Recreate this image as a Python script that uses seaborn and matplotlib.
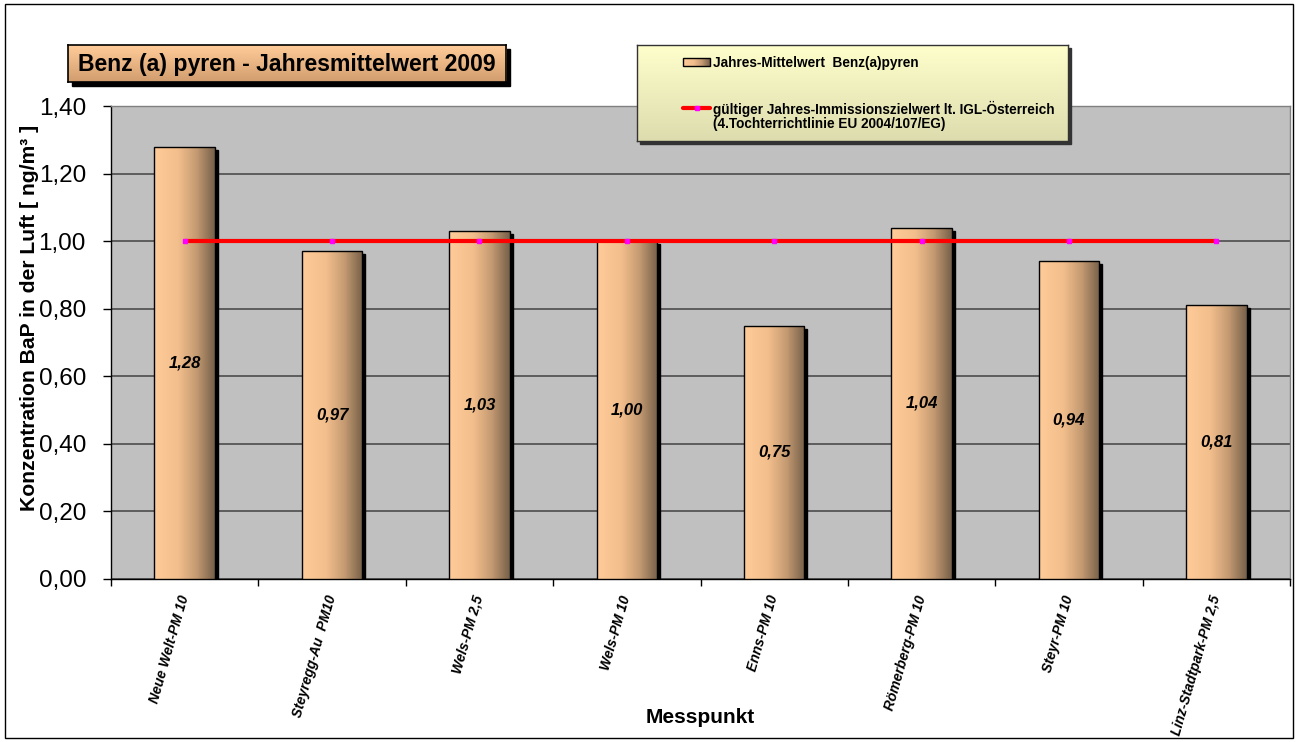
import numpy as np
import matplotlib
matplotlib.use('Agg')
import matplotlib.pyplot as plt
import matplotlib.transforms as mtransforms
from matplotlib.patches import Rectangle
from matplotlib.colors import LinearSegmentedColormap
from matplotlib.ticker import FuncFormatter
import seaborn as sns

# chart data
stations = ['Neue Welt-PM 10', 'Steyregg-Au  PM10', 'Wels-PM 2,5', 'Wels-PM 10',
            'Enns-PM 10', 'Römerberg-PM 10', 'Steyr-PM 10', 'Linz-Stadtpark-PM 2,5']
bap_values = [1.28, 0.97, 1.03, 1.00, 0.75, 1.04, 0.94, 0.81]
target_value = 1.0
y_ticks = [0.0, 0.2, 0.4, 0.6, 0.8, 1.0, 1.2, 1.4]

title = 'Benz (a) pyren - Jahresmittelwert 2009'
legend_bar = 'Jahres-Mittelwert  Benz(a)pyren'
legend_line = 'gültiger Jahres-Immissionszielwert lt. IGL-Österreich\n(4.Tochterrichtlinie EU 2004/107/EG)'

sns.set_theme(style='white')
plt.rcParams['font.family'] = ['Liberation Sans', 'DejaVu Sans']
plt.rcParams.update({'text.color': 'black', 'axes.labelcolor': 'black',
                     'xtick.color': 'black', 'ytick.color': 'black'})

W, H = 1299, 742
fig = plt.figure(figsize=(W / 100, H / 100), dpi=100)


def fig_rect(x0, y0, x1, y1):
    # pixel box (top-left origin) -> figure fraction
    return [x0 / W, 1 - y1 / H, (x1 - x0) / W, (y1 - y0) / H]


bar_cmap = LinearSegmentedColormap.from_list(
    'bar', [(0, '#FFCC99'), (0.4, '#F2BE8C'), (0.7, '#C49A72'), (1, '#76604A')])
title_cmap = LinearSegmentedColormap.from_list('title', ['#D29D6E', '#FFCC99'])
legend_cmap = LinearSegmentedColormap.from_list('legend', ['#DCDCAE', '#FFFFCC'])
hgrad = np.linspace(0, 1, 256).reshape(1, -1)
vgrad = np.linspace(0, 1, 256).reshape(-1, 1)

ax = fig.add_axes(fig_rect(111, 106, 1290, 579))
ax.set_facecolor('#C0C0C0')
ax.set_zorder(0)

sns.barplot(x=stations, y=bap_values, color='#E8B485', width=0.41,
            saturation=1, ax=ax)

shadow_tr = ax.transData + mtransforms.ScaledTranslation(3 / 100, -3 / 100, fig.dpi_scale_trans)
for p in ax.patches:
    x0, w, h = p.get_x(), p.get_width(), p.get_height()
    ax.add_patch(Rectangle((x0, 0), w, h, color='black', transform=shadow_tr, zorder=2.5))
    img = ax.imshow(hgrad, extent=[x0, x0 + w, 0, h], aspect='auto', cmap=bar_cmap,
                    interpolation='bilinear', zorder=3.1)
    img.set_clip_path(p)
    p.set_facecolor('none')
    p.set_edgecolor('black')
    p.set_linewidth(1)
    p.set_zorder(3.2)

# target value line
ax.plot(range(len(stations)), [target_value] * len(stations), color='red', lw=3,
        marker='s', ms=3.5, mfc='magenta', mec='magenta', zorder=4)

for i, v in enumerate(bap_values):
    ax.text(i, v / 2, f'{v:.2f}'.replace('.', ','), ha='center', va='center',
            fontsize=12, fontweight='bold', style='italic', zorder=5)

ax.set_xlim(-0.5, len(stations) - 0.5)
ax.set_ylim(0, 1.4)
ax.set_yticks(y_ticks)
ax.yaxis.set_major_formatter(FuncFormatter(lambda v, _: f'{v:.2f}'.replace('.', ',')))
ax.yaxis.grid(True, color='#555555', lw=1.3)
ax.set_axisbelow(True)
ax.tick_params(axis='y', left=True, length=6, width=1, labelsize=17.5, pad=12)

ax.set_xticks(range(len(stations)))
ax.set_xticklabels(stations)
ax.set_xticks(np.arange(-0.5, len(stations), 1), minor=True)
ax.tick_params(axis='x', which='major', length=0, pad=12)
ax.tick_params(axis='x', which='minor', bottom=True, length=5, width=1)
for lbl in ax.get_xticklabels():
    lbl.set_rotation(74)
    lbl.set_ha('right')
    lbl.set_va('center')
    lbl.set_rotation_mode('anchor')
    lbl.set_fontsize(10)
    lbl.set_fontweight('bold')
    lbl.set_fontstyle('italic')

for side in ['top', 'right']:
    ax.spines[side].set_color('#808080')
for side in ['left', 'bottom']:
    ax.spines[side].set_color('black')
for s in ax.spines.values():
    s.set_linewidth(1)

ax.set_ylabel('Konzentration BaP in der Luft [ ng/m³ ]', fontsize=15.2, fontweight='bold')
ax.yaxis.set_label_coords((39 - 111) / 1179, (579 - 318) / 473)
ax.set_xlabel('Messpunkt', fontsize=15, fontweight='bold')
ax.xaxis.set_label_coords(0.5, (579 - 708) / 473)

# title box with shadow
fig.add_artist(Rectangle(fig_rect(72, 49, 510, 86)[:2], 438 / W, 37 / H, color='black',
                         transform=fig.transFigure, zorder=1))
tax = fig.add_axes(fig_rect(68, 45, 506, 82))
tax.set_zorder(2)
tax.imshow(vgrad, extent=[0, 1, 0, 1], aspect='auto', cmap=title_cmap, origin='lower')
tax.set_xlim(0, 1)
tax.set_ylim(0, 1)
tax.set_xticks([])
tax.set_yticks([])
for s in tax.spines.values():
    s.set_color('black')
    s.set_linewidth(1.2)
tax.text(0.5, 0.48, title, ha='center', va='center', fontsize=16.6, fontweight='bold')

# legend box with shadow
LX0, LY0, LX1, LY1 = 637, 45, 1068, 141
fig.add_artist(Rectangle(fig_rect(LX0 + 3, LY0 + 3, LX1 + 3, LY1 + 3)[:2], (LX1 - LX0) / W,
                         (LY1 - LY0) / H, color='#333333', transform=fig.transFigure, zorder=1))
lax = fig.add_axes(fig_rect(LX0, LY0, LX1, LY1))
lax.set_zorder(2)
lax.imshow(vgrad, extent=[0, 1, 0, 1], aspect='auto', cmap=legend_cmap, origin='lower')
lax.set_xticks([])
lax.set_yticks([])
for s in lax.spines.values():
    s.set_color('#333333')
    s.set_linewidth(1)


def lx(px):
    return (px - LX0) / (LX1 - LX0)


def ly(py):
    return (LY1 - py) / (LY1 - LY0)


lax.imshow(hgrad, extent=[lx(683), lx(710), ly(66), ly(58)], aspect='auto', cmap=bar_cmap)
lax.add_patch(Rectangle((lx(683), ly(66)), lx(710) - lx(683), ly(58) - ly(66),
                        fill=False, ec='black', lw=1))
lax.set_xlim(0, 1)
lax.set_ylim(0, 1)
lax.text(lx(713), ly(63), legend_bar, ha='left', va='center', fontsize=9.8, fontweight='bold')
lax.plot([lx(683), lx(710)], [ly(108), ly(108)], color='red', lw=3)
lax.plot([lx(696.5)], [ly(108)], marker='s', ms=3.5, color='magenta', ls='none')
lax.text(lx(713), ly(101), legend_line, ha='left', va='top', fontsize=9.8, fontweight='bold',
         linespacing=1.0)

# outer frame
fig.add_artist(Rectangle((5 / W, 4 / H), 1288 / W, 734 / H, fill=False, ec='black', lw=1,
                         transform=fig.transFigure, zorder=5))

fig.savefig('out.png', dpi=100)
